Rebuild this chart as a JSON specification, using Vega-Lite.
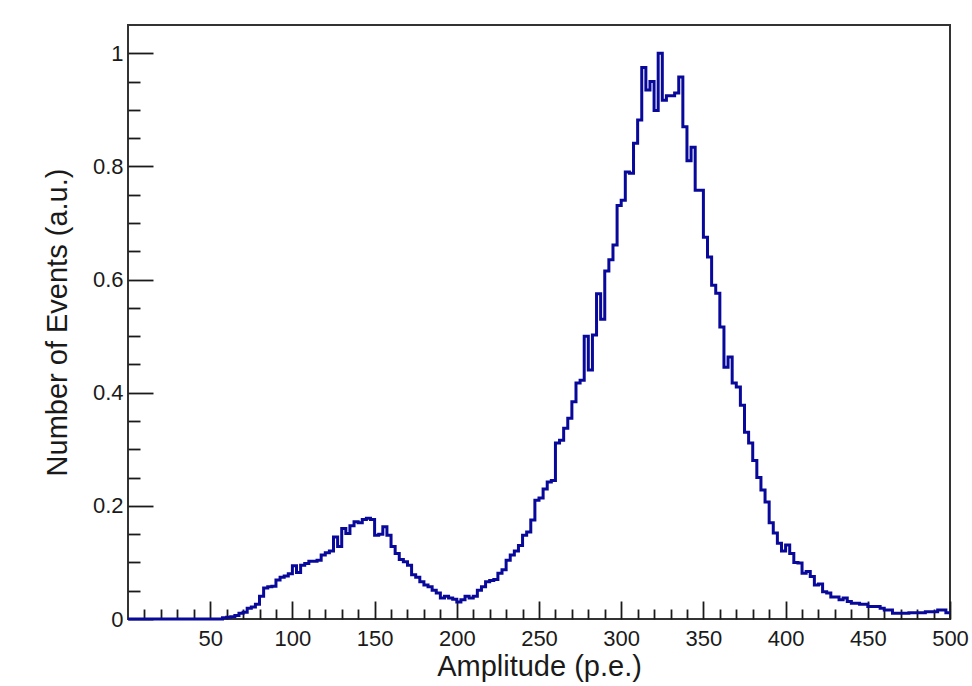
{
  "$schema": "https://vega.github.io/schema/vega-lite/v6.json",
  "autosize": {"type": "none"},
  "width": 822,
  "height": 594,
  "padding": {"left": 128, "top": 25, "right": 22, "bottom": 67},
  "background": "white",
  "config": {
    "view": {"stroke": "#333333", "strokeWidth": 2},
    "font": "Liberation Sans",
    "axis": {"grid": false, "domain": false, "labelFont": "Liberation Sans", "titleFont": "Liberation Sans", "labelColor": "#1a1a1a", "titleColor": "#1a1a1a", "tickColor": "#1a1a1a", "titleFontWeight": "normal", "labelFontSize": 22, "titleFontSize": 29, "tickWidth": 1.8}
  },
  "data": {"values": [
    {"a": 0, "v": 0}, {"a": 55, "v": 0}, {"a": 57.5, "v": 0.002}, {"a": 60, "v": 0.003}, {"a": 62.5, "v": 0.004},
    {"a": 65, "v": 0.006}, {"a": 67.5, "v": 0.01}, {"a": 70, "v": 0.012}, {"a": 72.5, "v": 0.019}, {"a": 75, "v": 0.021},
    {"a": 77.5, "v": 0.026}, {"a": 80, "v": 0.04}, {"a": 82.5, "v": 0.055}, {"a": 85, "v": 0.057}, {"a": 87.5, "v": 0.058},
    {"a": 90, "v": 0.069}, {"a": 92.5, "v": 0.074}, {"a": 95, "v": 0.076}, {"a": 97.5, "v": 0.08}, {"a": 100, "v": 0.094},
    {"a": 102.5, "v": 0.082}, {"a": 105, "v": 0.095}, {"a": 107.5, "v": 0.098}, {"a": 110, "v": 0.102}, {"a": 112.5, "v": 0.102},
    {"a": 115, "v": 0.104}, {"a": 117.5, "v": 0.113}, {"a": 120, "v": 0.117}, {"a": 122.5, "v": 0.12}, {"a": 125, "v": 0.145},
    {"a": 127.5, "v": 0.128}, {"a": 130, "v": 0.16}, {"a": 132.5, "v": 0.151}, {"a": 135, "v": 0.165}, {"a": 137.5, "v": 0.172},
    {"a": 140, "v": 0.17}, {"a": 142.5, "v": 0.176}, {"a": 145, "v": 0.178}, {"a": 147.5, "v": 0.176}, {"a": 150, "v": 0.148},
    {"a": 152.5, "v": 0.15}, {"a": 155, "v": 0.163}, {"a": 157.5, "v": 0.148}, {"a": 160, "v": 0.128}, {"a": 162.5, "v": 0.116},
    {"a": 165, "v": 0.105}, {"a": 167.5, "v": 0.101}, {"a": 170, "v": 0.095}, {"a": 172.5, "v": 0.078}, {"a": 175, "v": 0.074},
    {"a": 177.5, "v": 0.066}, {"a": 180, "v": 0.06}, {"a": 182.5, "v": 0.057}, {"a": 185, "v": 0.051}, {"a": 187.5, "v": 0.046},
    {"a": 190, "v": 0.037}, {"a": 192.5, "v": 0.04}, {"a": 195, "v": 0.037}, {"a": 197.5, "v": 0.035}, {"a": 200, "v": 0.03},
    {"a": 202.5, "v": 0.034}, {"a": 205, "v": 0.04}, {"a": 207.5, "v": 0.037}, {"a": 210, "v": 0.04}, {"a": 212.5, "v": 0.051},
    {"a": 215, "v": 0.057}, {"a": 217.5, "v": 0.066}, {"a": 220, "v": 0.068}, {"a": 222.5, "v": 0.07}, {"a": 225, "v": 0.081},
    {"a": 227.5, "v": 0.087}, {"a": 230, "v": 0.104}, {"a": 232.5, "v": 0.113}, {"a": 235, "v": 0.12}, {"a": 237.5, "v": 0.13},
    {"a": 240, "v": 0.148}, {"a": 242.5, "v": 0.154}, {"a": 245, "v": 0.175}, {"a": 247.5, "v": 0.21}, {"a": 250, "v": 0.214},
    {"a": 252.5, "v": 0.23}, {"a": 255, "v": 0.242}, {"a": 257.5, "v": 0.245}, {"a": 260, "v": 0.311}, {"a": 262.5, "v": 0.316},
    {"a": 265, "v": 0.337}, {"a": 267.5, "v": 0.355}, {"a": 270, "v": 0.384}, {"a": 272.5, "v": 0.417}, {"a": 275, "v": 0.422},
    {"a": 277.5, "v": 0.5}, {"a": 280, "v": 0.44}, {"a": 282.5, "v": 0.502}, {"a": 285, "v": 0.575}, {"a": 287.5, "v": 0.53},
    {"a": 290, "v": 0.615}, {"a": 292.5, "v": 0.635}, {"a": 295, "v": 0.661}, {"a": 297.5, "v": 0.731}, {"a": 300, "v": 0.74},
    {"a": 302.5, "v": 0.79}, {"a": 305, "v": 0.788}, {"a": 307.5, "v": 0.841}, {"a": 310, "v": 0.882}, {"a": 312.5, "v": 0.975},
    {"a": 315, "v": 0.935}, {"a": 317.5, "v": 0.95}, {"a": 320, "v": 0.899}, {"a": 322.5, "v": 1.0}, {"a": 325, "v": 0.917},
    {"a": 327.5, "v": 0.925}, {"a": 330, "v": 0.925}, {"a": 332.5, "v": 0.93}, {"a": 335, "v": 0.958}, {"a": 337.5, "v": 0.87},
    {"a": 340, "v": 0.81}, {"a": 342.5, "v": 0.834}, {"a": 345, "v": 0.758}, {"a": 347.5, "v": 0.758}, {"a": 350, "v": 0.675},
    {"a": 352.5, "v": 0.64}, {"a": 355, "v": 0.59}, {"a": 357.5, "v": 0.576}, {"a": 360, "v": 0.516}, {"a": 362.5, "v": 0.445},
    {"a": 365, "v": 0.463}, {"a": 367.5, "v": 0.417}, {"a": 370, "v": 0.41}, {"a": 372.5, "v": 0.378}, {"a": 375, "v": 0.33},
    {"a": 377.5, "v": 0.311}, {"a": 380, "v": 0.28}, {"a": 382.5, "v": 0.25}, {"a": 385, "v": 0.228}, {"a": 387.5, "v": 0.207},
    {"a": 390, "v": 0.17}, {"a": 392.5, "v": 0.152}, {"a": 395, "v": 0.134}, {"a": 397.5, "v": 0.12}, {"a": 400, "v": 0.131},
    {"a": 402.5, "v": 0.116}, {"a": 405, "v": 0.1}, {"a": 407.5, "v": 0.099}, {"a": 410, "v": 0.081}, {"a": 412.5, "v": 0.084},
    {"a": 415, "v": 0.075}, {"a": 417.5, "v": 0.06}, {"a": 420, "v": 0.062}, {"a": 422.5, "v": 0.048}, {"a": 425, "v": 0.046},
    {"a": 427.5, "v": 0.039}, {"a": 430, "v": 0.039}, {"a": 432.5, "v": 0.034}, {"a": 435, "v": 0.037}, {"a": 437.5, "v": 0.031},
    {"a": 440, "v": 0.028}, {"a": 442.5, "v": 0.028}, {"a": 445, "v": 0.026}, {"a": 447.5, "v": 0.026}, {"a": 450, "v": 0.022},
    {"a": 452.5, "v": 0.022}, {"a": 455, "v": 0.022}, {"a": 457.5, "v": 0.019}, {"a": 460, "v": 0.016}, {"a": 462.5, "v": 0.016},
    {"a": 465, "v": 0.01}, {"a": 467.5, "v": 0.01}, {"a": 470, "v": 0.01}, {"a": 472.5, "v": 0.01}, {"a": 475, "v": 0.011},
    {"a": 477.5, "v": 0.011}, {"a": 480, "v": 0.011}, {"a": 482.5, "v": 0.011}, {"a": 485, "v": 0.013}, {"a": 487.5, "v": 0.013},
    {"a": 490, "v": 0.013}, {"a": 492.5, "v": 0.016}, {"a": 495, "v": 0.016}, {"a": 497.5, "v": 0.011}, {"a": 500, "v": 0.011}
  ]},
  "layer": [
    {
      "mark": {"type": "line", "interpolate": "step-after", "strokeOpacity": 0},
      "encoding": {
        "x": {"field": "a", "type": "quantitative", "scale": {"domain": [0, 500], "nice": false},
              "axis": {"orient": "bottom", "values": [10,20,30,40,60,70,80,90,110,120,130,140,160,170,180,190,210,220,230,240,260,270,280,290,310,320,330,340,360,370,380,390,410,420,430,440,460,470,480,490], "tickSize": -10, "labels": false, "title": null}},
        "y": {"field": "v", "type": "quantitative", "scale": {"domain": [0, 1.05], "nice": false, "zero": true},
              "axis": {"orient": "left", "values": [0.05,0.1,0.15,0.25,0.3,0.35,0.45,0.5,0.55,0.65,0.7,0.75,0.85,0.9,0.95], "tickSize": -12, "labels": false, "title": null}}
      }
    },
    {
      "mark": {"type": "line", "interpolate": "step-after", "color": "#08089a", "strokeWidth": 3},
      "encoding": {
        "x": {"field": "a", "type": "quantitative",
              "axis": {"orient": "bottom", "values": [50,100,150,200,250,300,350,400,450,500], "tickSize": -18, "labelPadding": 27, "labelFlush": false, "title": "Amplitude (p.e.)", "titleBaseline": "alphabetic", "titleY": 56, "titleX": 411}},
        "y": {"field": "v", "type": "quantitative",
              "axis": {"orient": "left", "values": [0, 0.2, 0.4, 0.6, 0.8, 1], "format": "~g", "tickSize": -25, "labelPadding": 30, "labelFlush": false, "title": "Number of Events (a.u.)", "titleAngle": 270, "titleBaseline": "alphabetic", "titleAlign": "center", "titleX": -62, "titleY": 297}}
      }
    }
  ],
  "resolve": {"axis": {"x": "independent", "y": "independent"}}
}
